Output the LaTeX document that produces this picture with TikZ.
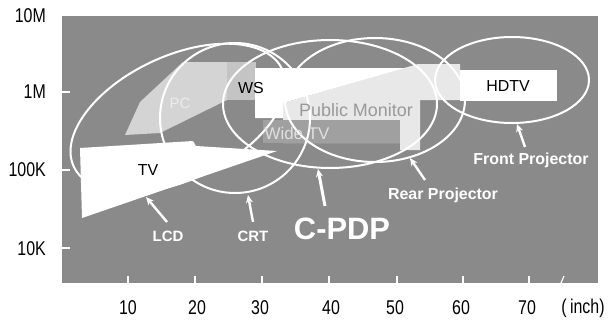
\documentclass[tikz,border=0pt]{standalone}
\usepackage{fontspec}
\setmainfont{Liberation Sans}
\newfontfamily\narrowf[FakeStretch=0.8]{Liberation Sans}
\usetikzlibrary{arrows.meta}
\definecolor{bggray}{RGB}{138,138,138}
\definecolor{pcgray}{RGB}{212,212,212}
\definecolor{wsgray}{RGB}{196,196,196}
\definecolor{pmgray}{RGB}{232,232,232}
\definecolor{widegray}{RGB}{160,160,160}
\begin{document}
\begin{tikzpicture}[x=1bp,y=-1bp,
  ell/.style={draw=white, line width=2bp},
  warrow/.style={draw=white, line width=2.4bp, -{Stealth[length=8bp,width=7bp]}},
  axlab/.style={font=\narrowf\fontsize{20}{20}\selectfont, text=black, inner sep=0},
  wlab/.style={text=white, font=\bfseries\fontsize{15}{15}\selectfont, inner sep=0},
  intext/.style={font=\fontsize{15}{15}\selectfont, inner sep=0},
  tick/.style={draw=white, line width=1.2bp}
]
\useasboundingbox (0,0) rectangle (612,325);
\fill[white] (0,0) rectangle (612,325);
% plot background
\fill[bggray] (62,16) rectangle (598,283);
% ticks
\foreach \yy in {92,170,248} {\draw[tick] (62,\yy) -- (70,\yy);}
\foreach \xx in {128,195,262,329,397,463,529} {\draw[tick] (\xx,283) -- (\xx,276);}
\draw[tick] (561,283) -- (564,276);
% PC region
\fill[pcgray] (125,135) -- (140,102) -- (183,62) -- (227,62) -- (227,100) -- (160,133) -- cycle;
% WS region
\fill[wsgray] (227,62) -- (256,62) -- (256,100) -- (227,100) -- cycle;
% Public monitor region
\fill[pmgray] (283,103) -- (418,64) -- (460,64) -- (460,100) -- (420,100) -- (420,150) -- (400,150) -- (400,143) -- (283,143) -- cycle;
% white band
\fill[white] (255,68) -- (405,68) -- (283,103) -- (283,118) -- (255,118) -- cycle;
% HDTV box
\fill[white] (460,70) rectangle (557,101);
% Wide TV box
\fill[widegray] (263,120) rectangle (400,143);
% TV triangle
\fill[white] (80,148) -- (193,141) -- (196,146) -- (277,151) -- (82,218) -- cycle;
% ellipses
\draw[ell, rotate around={25:(178,118)}] (178,118) ellipse [x radius=115, y radius=62];
\draw[ell] (235,118) ellipse [x radius=75, y radius=75];
\draw[ell] (330,104) ellipse [x radius=107, y radius=64];
\draw[ell] (375,100) ellipse [x radius=90, y radius=62];
\draw[ell] (512,80) ellipse [x radius=77, y radius=43];
% inner texts
\node[intext, text=white!92!black] (pc) at (180,103) {PC};
\node[intext, text=black, font=\fontsize{16}{16}\selectfont] (ws) at (251,88) {WS};
\node[intext, text=black, font=\fontsize{16}{16}\selectfont] (hdtv) at (508,86) {HDTV};
\node[intext, text=gray!80, font=\fontsize{18}{18}\selectfont] (pm) at (356,110) {Public Monitor};
\node[intext, text=white!88!black, font=\fontsize{17}{17}\selectfont] (wide) at (297,133) {Wide TV};
\node[intext, text=black, font=\fontsize{16}{16}\selectfont] (tv) at (148,170) {TV};
% white labels
\node[wlab] (lcd) at (168,236) {LCD};
\node[wlab] (crt) at (253,236) {CRT};
\node[wlab, font=\bfseries\fontsize{31}{31}\selectfont] (cpdp) at (342,229) {C-PDP};
\node[wlab, font=\bfseries\fontsize{16}{16}\selectfont] (rear) at (443,195) {Rear Projector};
\node[wlab, font=\bfseries\fontsize{16}{16}\selectfont] (front) at (531,160) {Front Projector};
% arrows
\coordinate (lcdtail) at (167,222); \coordinate (lcdtip) at (146,197);
\coordinate (crttail) at (253,222); \coordinate (crttip) at (248,195);
\coordinate (cpdptail) at (325,206); \coordinate (cpdptip) at (318,169);
\coordinate (reartail) at (425,180); \coordinate (reartip) at (410,158);
\coordinate (fronttail) at (525,147); \coordinate (fronttip) at (517,124);
\draw[warrow] (lcdtail) -- (lcdtip);
\draw[warrow] (crttail) -- (crttip);
\draw[warrow, line width=3bp] (cpdptail) -- (cpdptip);
\draw[warrow] (reartail) -- (reartip);
\draw[warrow] (fronttail) -- (fronttip);
% axis labels
\node[axlab, anchor=east] (y10M) at (46,16) {10M};
\node[axlab, anchor=east] (y1M) at (46,92) {1M};
\node[axlab, anchor=east] (y100K) at (46,170) {100K};
\node[axlab, anchor=east] (y10K) at (46,249) {10K};
\node[axlab] (x10) at (128,308) {10};
\node[axlab] (x20) at (197,308) {20};
\node[axlab] (x30) at (260,308) {30};
\node[axlab] (x40) at (331,308) {40};
\node[axlab] (x50) at (395,308) {50};
\node[axlab] (x60) at (461,308) {60};
\node[axlab] (x70) at (527,308) {70};
\node[axlab] (xinch) at (583,308) {(\,inch)};
\end{tikzpicture}
\end{document}
